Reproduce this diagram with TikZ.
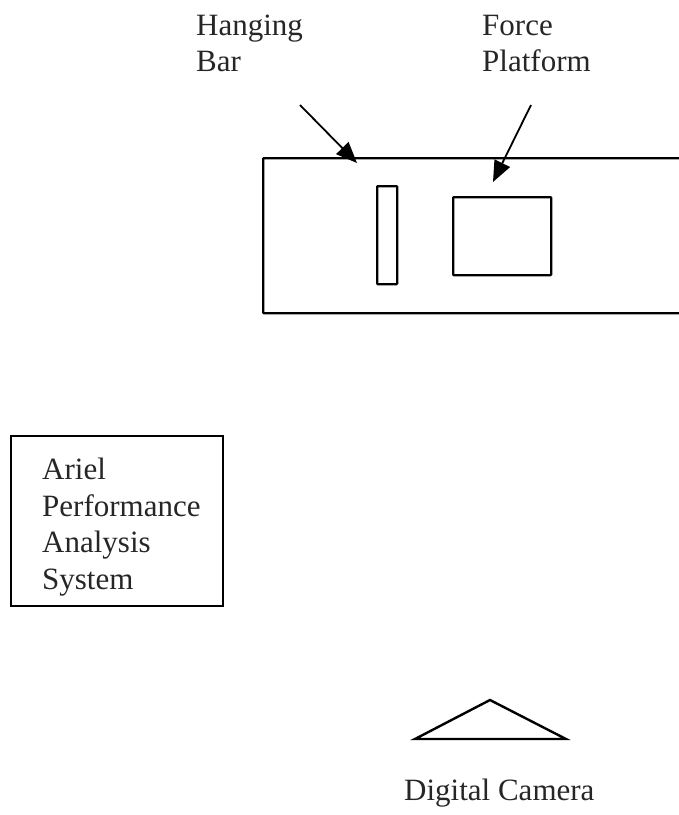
\documentclass[tikz,border=0pt]{standalone}
\usepackage{fontspec}
\setmainfont{Liberation Serif}
\usetikzlibrary{arrows.meta}
\begin{document}
\begin{tikzpicture}[x=1pt,y=-1pt,
  frame/.style={draw, line width=2.3pt, inner sep=0pt, anchor=north west, rounded corners=0.8pt},
  lbl/.style={font=\fontsize{31}{36.5}\selectfont, align=left, anchor=north west, inner sep=0pt, text=black!85},
  ptr/.style={line width=1.8pt, -{Triangle[length=21pt,width=17pt]}},
  cam/.style={line width=2.4pt, line join=miter}]
\useasboundingbox (0,0) rectangle (679,815);
\clip (0,0) rectangle (679,815);
% room / frame
\node[frame, minimum width=440pt, minimum height=155pt] (room) at (262,157) {};
\node[frame, minimum width=20pt, minimum height=98pt] (bar) at (376,185) {};
\node[frame, minimum width=98pt, minimum height=78pt] (plat) at (452,196) {};
% labels
\node[lbl] (hang) at (196,14.5) {Hanging\\Bar};
\node[lbl] (force) at (482,14.5) {Force\\Platform};
\coordinate (a1s) at (300,105);
\coordinate (a1e) at (357,163);
\coordinate (a2s) at (531,105);
\coordinate (a2e) at (493,182);
\draw[ptr] (a1s) -- (a1e);
\draw[ptr] (a2s) -- (a2e);
% Ariel box
\node[frame, minimum width=212pt, minimum height=170pt, rounded corners=0pt] (ariel) at (10,435) {};
\node[lbl] (arieltxt) at (42,458) {Ariel\\Performance\\Analysis\\System};
% camera
\coordinate (cl) at (415,739);
\coordinate (ct) at (490,700);
\coordinate (cr) at (566,739);
\draw[cam] (cl) -- (ct) -- (cr) -- cycle;
\node[lbl] (camtxt) at (404,779) {Digital Camera};
\end{tikzpicture}
\end{document}
